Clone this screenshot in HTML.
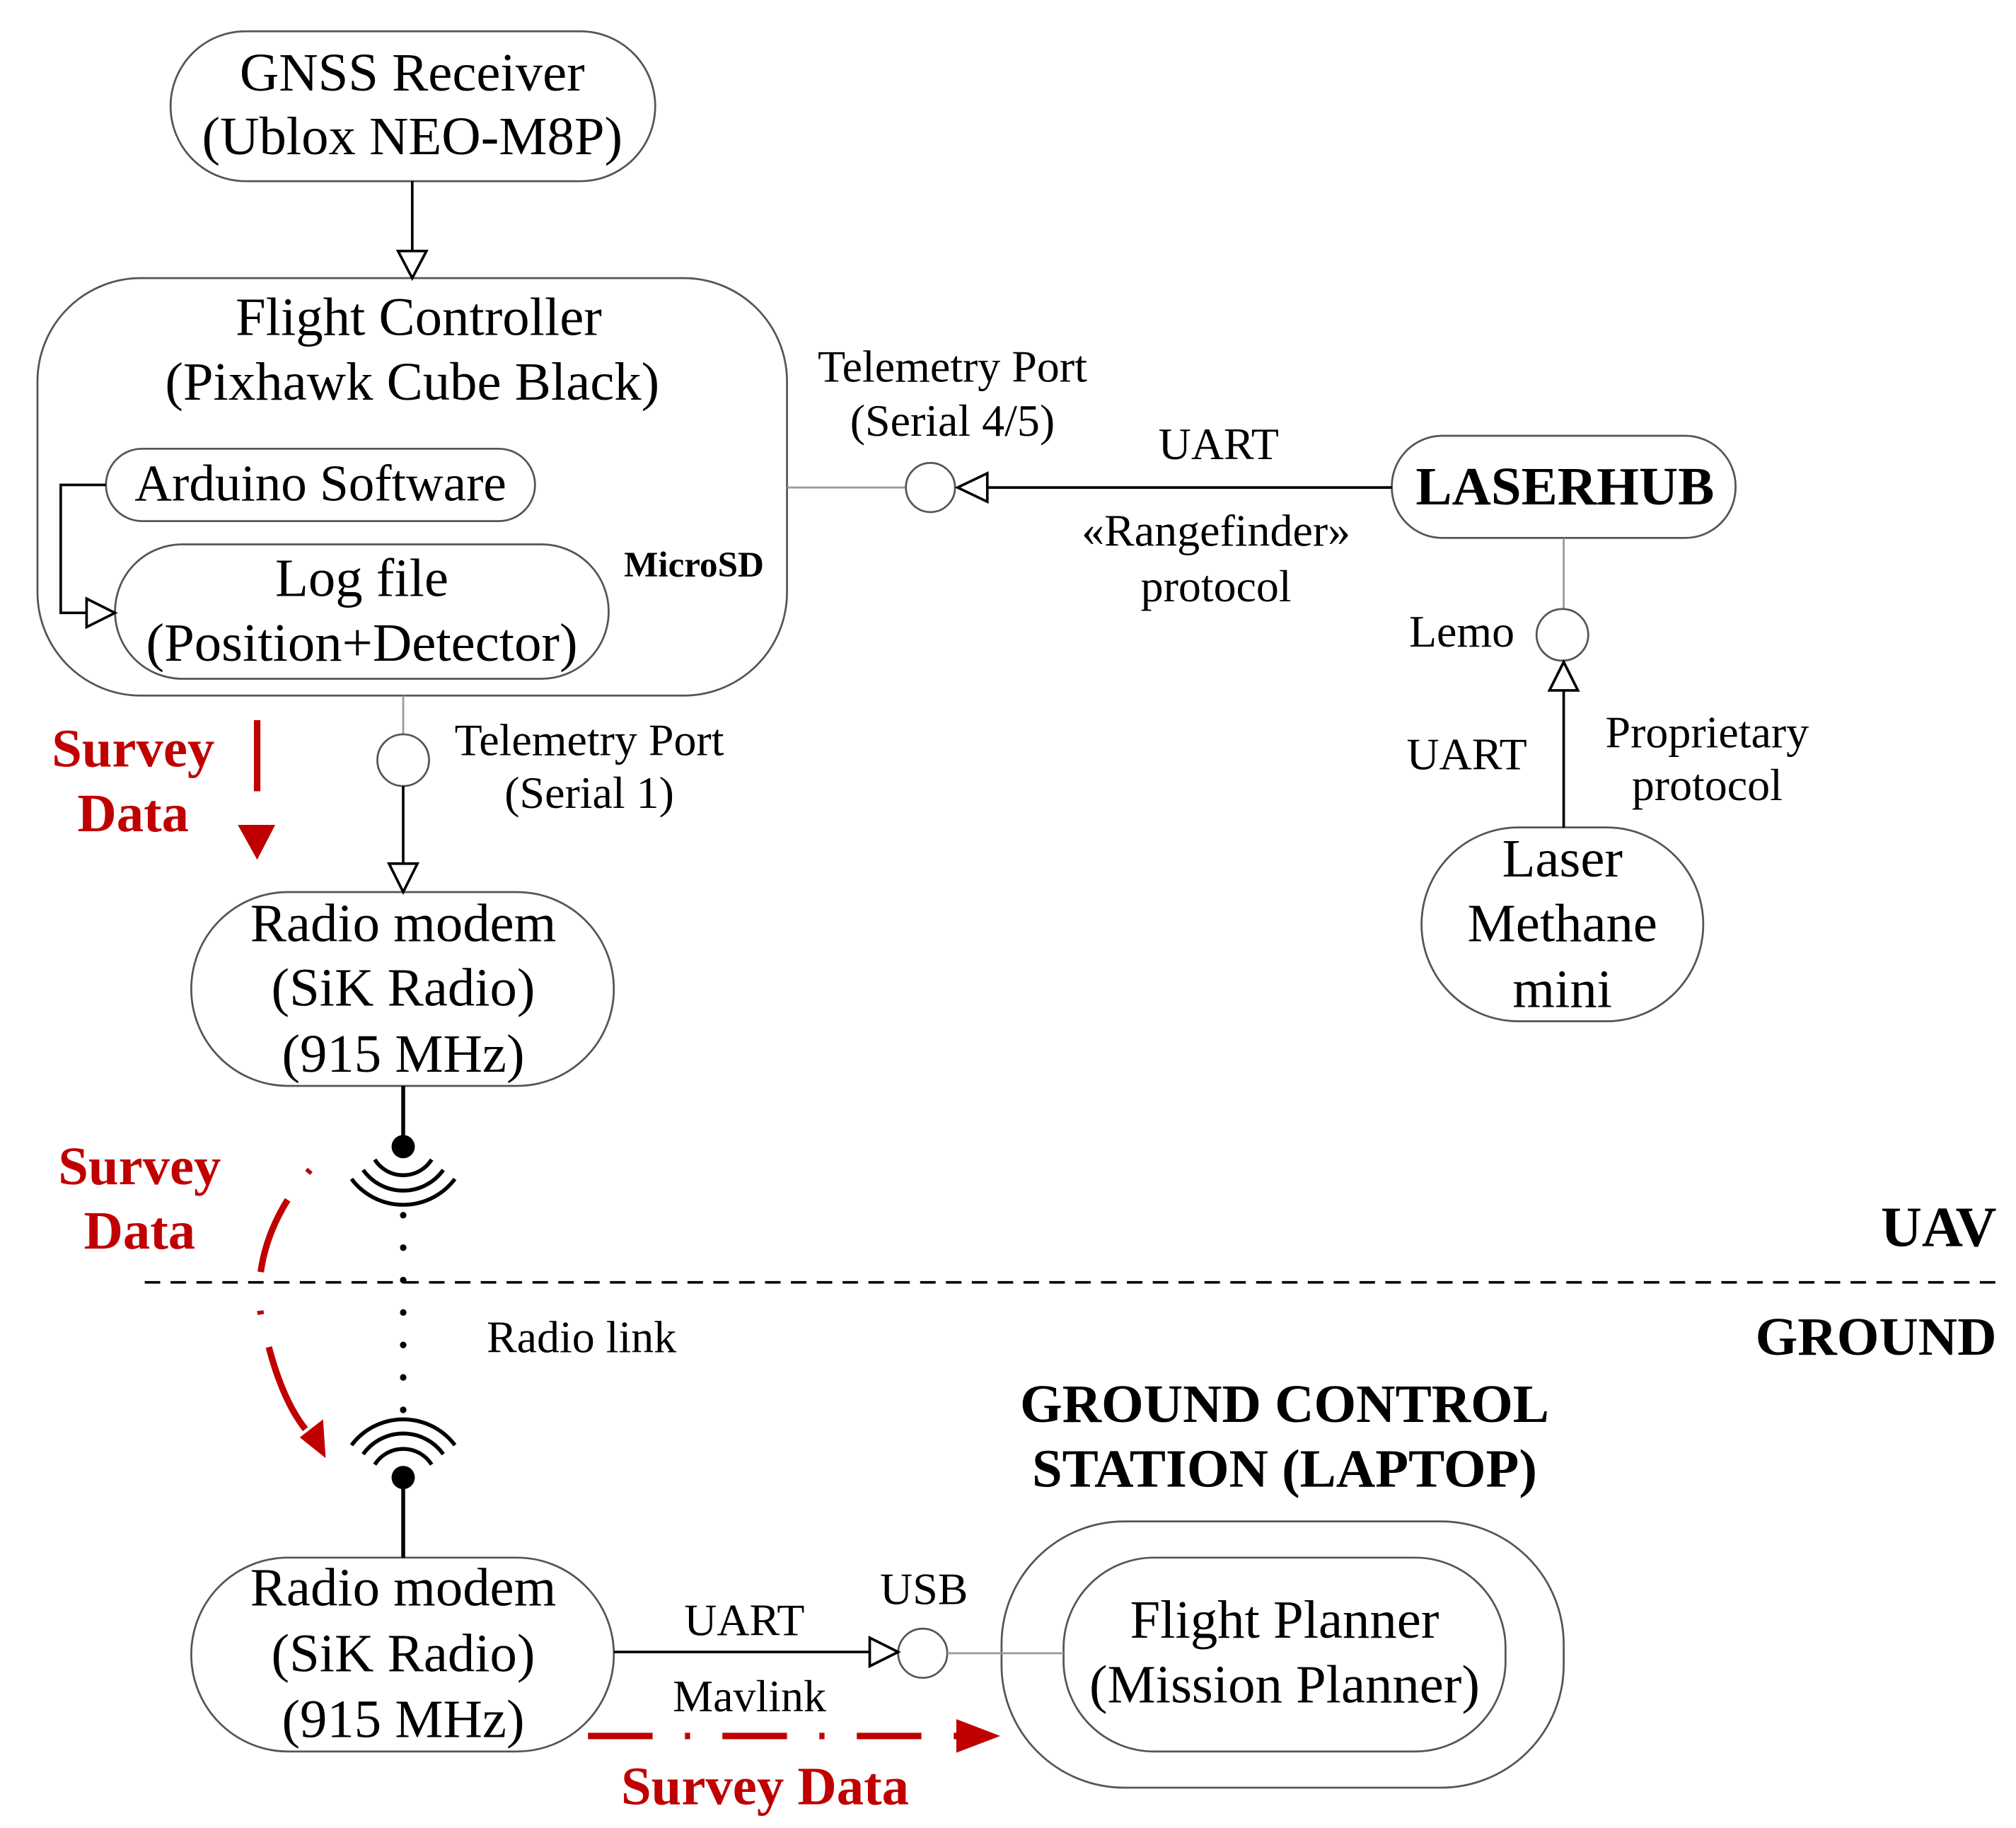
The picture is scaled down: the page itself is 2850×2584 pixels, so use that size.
<!DOCTYPE html>
<html><head><meta charset="utf-8"><style>html,body{margin:0;padding:0;background:#fff}svg{display:block}</style></head>
<body>
<svg width="2850" height="2584" viewBox="0 0 1560 1414" xmlns="http://www.w3.org/2000/svg" font-family="'Liberation Serif', serif">
<rect width="1560" height="1414" fill="#fff"/>
<g fill="none" stroke="#555" stroke-width="1.5">
<rect x="132" y="24" width="375" height="116" rx="58"/>
<rect x="29" y="215" width="580" height="323" rx="80"/>
<rect x="82" y="347" width="332" height="56" rx="28"/>
<rect x="89" y="421" width="382" height="104" rx="52"/>
<rect x="1077" y="337" width="266" height="79" rx="39"/>
<rect x="1100" y="640" width="218" height="150" rx="75"/>
<rect x="148" y="690" width="327" height="150" rx="75"/>
<rect x="148" y="1205" width="327" height="150" rx="75"/>
<rect x="775" y="1177" width="435" height="206" rx="95"/>
<rect x="823" y="1205" width="342" height="150" rx="70"/>
<line x1="609" y1="377" x2="701" y2="377" stroke="#999"/>
<circle cx="720" cy="377" r="19"/>
<line x1="1210" y1="416" x2="1210" y2="471" stroke="#999"/>
<circle cx="1209" cy="491" r="20"/>
<line x1="312" y1="538" x2="312" y2="568" stroke="#999"/>
<circle cx="312" cy="588" r="20"/>
<circle cx="714" cy="1279" r="19"/>
<line x1="733" y1="1279" x2="823" y2="1279" stroke="#999"/>
</g>
<g fill="none" stroke="#000" stroke-width="2">
<line x1="319" y1="140" x2="319" y2="194"/>
<polygon points="308,194 330,194 319,215" fill="#fff"/>
<polyline points="82,375 47,375 47,474 67,474"/>
<polygon points="67,463 67,485 89,474" fill="#fff"/>
<line x1="1077" y1="377" x2="764" y2="377"/>
<polygon points="764,366 764,388 741,377" fill="#fff"/>
<line x1="1210" y1="640" x2="1210" y2="534"/>
<polygon points="1199,534 1221,534 1210,512" fill="#fff"/>
<line x1="312" y1="608" x2="312" y2="668"/>
<polygon points="301,668 323,668 312,690" fill="#fff"/>
<line x1="475" y1="1278" x2="673" y2="1278"/>
<polygon points="673,1267 673,1289 695,1278" fill="#fff"/>
<line x1="312" y1="840" x2="312" y2="887" stroke-width="3"/>
<line x1="312" y1="1143" x2="312" y2="1205" stroke-width="3"/>
<path d="M290,897 A26,26 0 0 0 334,897" stroke-width="3"/>
<path d="M281,905 A38,38 0 0 0 343,905" stroke-width="3"/>
<path d="M272,912 A50,50 0 0 0 352,912" stroke-width="3"/>
<path d="M290,1133 A26,26 0 0 1 334,1133" stroke-width="3"/>
<path d="M281,1125 A38,38 0 0 1 343,1125" stroke-width="3"/>
<path d="M272,1118 A50,50 0 0 1 352,1118" stroke-width="3"/>
<line x1="312" y1="940" x2="312" y2="1095" stroke-width="5" stroke-dasharray="0.1 25" stroke-linecap="round"/>
<line x1="112" y1="992" x2="1545" y2="992" stroke-width="2" stroke-dasharray="12 8"/>
</g>
<circle cx="312" cy="887" r="9" fill="#000"/>
<circle cx="312" cy="1143" r="9" fill="#000"/>
<g stroke="#c00000" fill="none" stroke-width="5">
<line x1="199" y1="557" x2="199" y2="612"/>
<path d="M240,905 C200,950 195,1000 205,1030 C212,1060 222,1090 240,1110" stroke-dasharray="3 26 60 30 3 26 70"/>
<line x1="455" y1="1343" x2="742" y2="1343" stroke-dasharray="50 25 4 25"/>
</g>
<g fill="#c00000">
<polygon points="232,1112 250,1098 252,1128"/>
<polygon points="184,638 213,638 199,665"/>
<polygon points="740,1330 740,1356 774,1343"/>
</g>
<g font-size="42" text-anchor="middle" fill="#000">
<text x="319" y="70">GNSS Receiver</text>
<text x="319" y="119">(Ublox NEO-M8P)</text>
<text x="324" y="259">Flight Controller</text>
<text x="319" y="309">(Pixhawk Cube Black)</text>
<text x="248" y="387" font-size="40">Arduino Software</text>
<text x="280" y="461">Log file</text>
<text x="280" y="511">(Position+Detector)</text>
<text x="1209" y="678">Laser</text>
<text x="1209" y="728">Methane</text>
<text x="1209" y="779">mini</text>
<text x="312" y="728">Radio modem</text>
<text x="312" y="778">(SiK Radio)</text>
<text x="312" y="829">(915 MHz)</text>
<text x="312" y="1242">Radio modem</text>
<text x="312" y="1293">(SiK Radio)</text>
<text x="312" y="1344">(915 MHz)</text>
<text x="994" y="1267">Flight Planner</text>
<text x="994" y="1317">(Mission Planner)</text>
</g>
<g font-size="35" text-anchor="middle" fill="#000">
<text x="737" y="295">Telemetry Port</text>
<text x="737" y="337">(Serial 4/5)</text>
<text x="943" y="355">UART</text>
<text x="941" y="422">«Rangefinder»</text>
<text x="941" y="465">protocol</text>
<text x="1135" y="595">UART</text>
<text x="1321" y="578">Proprietary</text>
<text x="1321" y="619">protocol</text>
<text x="1172" y="500" text-anchor="end">Lemo</text>
<text x="456" y="584">Telemetry Port</text>
<text x="456" y="625">(Serial 1)</text>
<text x="450" y="1046">Radio link</text>
<text x="576" y="1265">UART</text>
<text x="715" y="1241">USB</text>
<text x="580" y="1324">Mavlink</text>
</g>
<g font-weight="bold" text-anchor="middle" fill="#000">
<text x="1211" y="390" font-size="42">LASERHUB</text>
<text x="537" y="446" font-size="28">MicroSD</text>
<text x="994" y="1100" font-size="42">GROUND CONTROL</text>
<text x="994" y="1150" font-size="42">STATION (LAPTOP)</text>
<text x="1545" y="964" font-size="44" text-anchor="end">UAV</text>
<text x="1545" y="1048" font-size="42" text-anchor="end">GROUND</text>
</g>
<g font-weight="bold" text-anchor="middle" fill="#c00000" font-size="42">
<text x="103" y="593">Survey</text>
<text x="103" y="643">Data</text>
<text x="108" y="916">Survey</text>
<text x="108" y="966">Data</text>
<text x="592" y="1396">Survey Data</text>
</g>
</svg>
</body></html>
